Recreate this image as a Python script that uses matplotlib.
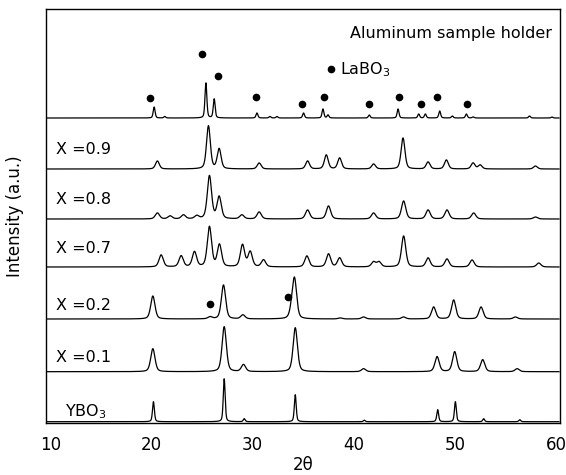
import numpy as np
import matplotlib
matplotlib.use("Agg")
import matplotlib.pyplot as plt

plt.rcParams['font.family'] = ['DejaVu Sans']

# ---- data (2theta positions, peak heights in a.u.) ----
al_pos = [20.25, 21.3, 25.37, 26.19, 30.42, 31.7, 32.4, 35.03, 36.95, 37.45, 41.53,
          44.38, 46.42, 47.08, 48.5, 49.75, 51.14, 51.8, 57.38, 59.6]
al_h = [11, 1.5, 35, 19, 5, 1.5, 1.5, 5, 9, 3, 3, 9, 4, 4, 7, 2, 4, 1, 2, 1]

x09_pos = [20.57, 25.62, 26.68, 30.64, 35.43, 37.28, 38.6, 41.96, 44.87, 47.35,
           49.16, 51.8, 52.5, 57.97]
x09_h = [8, 43, 20, 6, 8, 14, 11, 5, 31, 7, 9, 6, 4, 3]

x08_pos = [20.57, 21.83, 23.15, 24.47, 25.72, 26.68, 28.93, 30.64, 35.43, 37.5,
           41.96, 44.93, 47.35, 49.22, 51.86, 57.97]
x08_h = [6, 3, 4, 3, 43, 22, 4, 7, 9, 13, 6, 18, 9, 9, 6, 2]

x07_pos = [20.94, 22.92, 24.24, 25.72, 26.71, 28.99, 29.75, 31.07, 35.36, 37.5,
           38.6, 41.96, 42.5, 44.93, 47.35, 49.22, 51.7, 58.3]
x07_h = [12, 11, 15, 40, 22, 22, 15, 7, 11, 13, 9, 5, 5, 31, 9, 8, 7, 4]

x02_pos = [20.12, 25.79, 27.11, 29.03, 33.88, 34.14, 38.66, 40.97, 44.93, 47.9,
           49.88, 52.59, 55.99]
x02_h = [23, 2, 34, 4, 8, 38, 1, 2, 2, 12, 19, 12, 2]

x01_pos = [20.12, 27.18, 29.09, 34.21, 40.97, 48.24, 49.98, 52.75, 56.16]
x01_h = [23, 45, 7, 44, 3, 15, 20, 12, 3]

ybo_pos = [20.18, 27.18, 29.16, 34.21, 41.04, 48.3, 50.05, 52.85, 56.42]
ybo_h = [20, 43, 3, 27, 1.5, 12, 20, 3, 2]

labels = ["Aluminum sample holder", "X =0.9", "X =0.8", "X =0.7", "X =0.2", "X =0.1", "YBO$_3$"]
offsets = [305, 254, 204, 156, 104, 51.3, 1.3]
fwhm = [0.22, 0.45, 0.5, 0.5, 0.5, 0.5, 0.22]

# LaBO3 markers
la_top_x = [19.85, 25.03, 26.61, 30.32, 34.87, 37.08, 41.53, 44.5, 46.68, 48.24, 51.2]
la_top_y = [325.3, 369, 347, 325.7, 319, 325.7, 319, 325.7, 319, 325.7, 319]
la_x02_x = [25.79, 33.45]
la_x02_y = [119, 126.3]

series = [(al_pos, al_h), (x09_pos, x09_h), (x08_pos, x08_h), (x07_pos, x07_h),
          (x02_pos, x02_h), (x01_pos, x01_h), (ybo_pos, ybo_h)]


def pattern(x, pos, h, w):
    y = np.zeros_like(x)
    s = w / 2.3548
    g = w / 2
    for p, a in zip(pos, h):
        gauss = np.exp(-0.5 * ((x - p) / s) ** 2)
        lor = 1 / (1 + ((x - p) / g) ** 2)
        y += a * (0.6 * gauss + 0.4 * lor)
    return y


fig = plt.figure(figsize=(5.66, 4.75), dpi=100)
ax = fig.add_axes([46 / 566, 1 - 423 / 475, 514 / 566, 414 / 475])

x = np.linspace(9.6, 60.3, 4000)
for (pos, h), off, w in zip(series, offsets, fwhm):
    ax.plot(x, pattern(x, pos, h, w) + off, color='black', lw=0.9)

ax.plot(la_top_x, la_top_y, 'o', color='black', ms=4.5)
ax.plot(la_x02_x, la_x02_y, 'o', color='black', ms=4.5)
ax.plot([37.77], [353.7], 'o', color='black', ms=4.5)
ax.text(38.6, 353.7, "LaBO$_3$", fontsize=11.5, va='center', ha='left')

ax.text(59.6, 390, labels[0], fontsize=11.5, va='center', ha='right')
lab_pos = [(10.55, 274), (10.55, 224), (10.55, 175), (10.55, 118), (10.55, 66), (11.4, 11)]
for t, (lx, ly) in zip(labels[1:], lab_pos):
    ax.text(lx, ly, t, fontsize=11.5, va='center', ha='left')

ax.set_xlim(9.55, 60.4)
ax.set_ylim(0, 414)
ax.set_xticks([10, 20, 30, 40, 50, 60])
ax.set_yticks([])
ax.tick_params(axis='x', length=0, pad=9, labelsize=12)
ax.set_xlabel("2θ", fontsize=12, labelpad=2)
ax.set_ylabel("Intensity (a.u.)", fontsize=12, labelpad=16)
for sp in ax.spines.values():
    sp.set_linewidth(1.0)

fig.savefig("out.png", dpi=100)
